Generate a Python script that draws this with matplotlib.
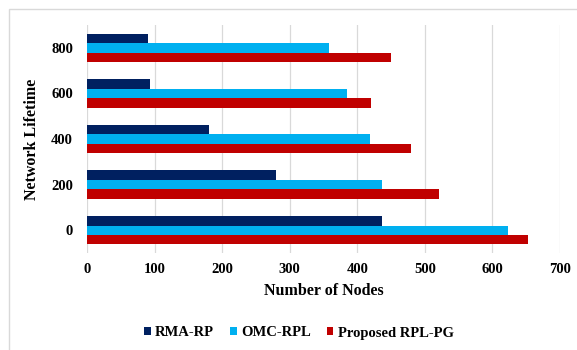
import numpy as np
import matplotlib
matplotlib.use("Agg")
import matplotlib.pyplot as plt
from matplotlib.patches import Rectangle

# data
lifetimes = ["0", "200", "400", "600", "800"]
rma_rp = [436, 280, 180, 93, 90]
omc_rpl = [623, 436, 419, 385, 358]
proposed = [652, 521, 480, 420, 450]
series_names = ["RMA-RP", "OMC-RPL", "Proposed RPL-PG"]
x_ticks = [0, 100, 200, 300, 400, 500, 600, 700]

colors = ["#002060", "#00B0F0", "#C00000"]

plt.rcParams["font.family"] = ["Liberation Serif", "DejaVu Serif"]
plt.rcParams["font.weight"] = "bold"

fig = plt.figure(figsize=(5.77, 3.5), dpi=100)
ax = fig.add_axes([0.1508, 0.277, 0.8197, 0.6516])

# outer chart border
fig.patches.append(Rectangle((9 / 577, -0.05), 1.2, 1 - 9 / 350 + 0.05,
                             transform=fig.transFigure, fill=False,
                             edgecolor="#D9D9D9", linewidth=1.0))

y = np.arange(len(lifetimes))
h = 0.207
for i, (vals, name) in enumerate(zip([rma_rp, omc_rpl, proposed], series_names)):
    ax.barh(y + h - i * h, vals, height=h, color=colors[i], label=name, zorder=3)

ax.set_xlim(0, 700)
ax.set_ylim(-0.5, len(lifetimes) - 0.5)
ax.set_xticks(x_ticks)
ax.set_yticks(y)
ax.set_yticklabels(lifetimes)
ax.tick_params(axis="both", length=0, labelsize=10.5)
ax.tick_params(axis="y", pad=10)
ax.tick_params(axis="x", pad=7)
for lbl in ax.get_xticklabels() + ax.get_yticklabels():
    lbl.set_fontweight("bold")

ax.grid(axis="x", color="#D9D9D9", linewidth=0.9, zorder=0)
for s in ax.spines.values():
    s.set_visible(False)

ax.set_xlabel("Number of Nodes", fontsize=11.5, fontweight="bold", labelpad=5)
ax.set_ylabel("Network Lifetime", fontsize=11.5, fontweight="bold", labelpad=8)

fig.legend(loc="center", bbox_to_anchor=(0.518, 1 - 333 / 350), ncol=3, frameon=False,
           handlelength=0.45, handleheight=0.45, handletextpad=0.3,
           columnspacing=1.1, prop={"weight": "bold", "size": 10.5})

fig.savefig("out.png", dpi=100)
